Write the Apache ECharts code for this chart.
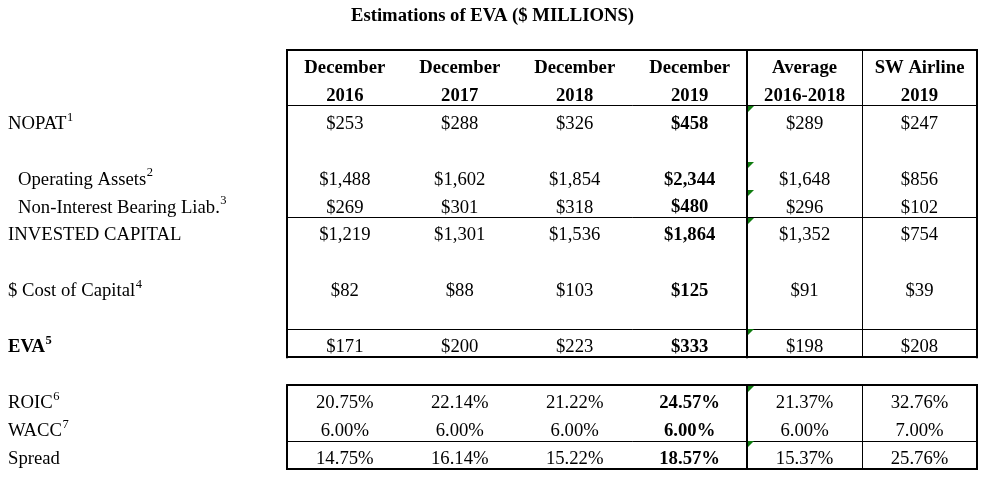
<!DOCTYPE html>
<html>
<head>
<meta charset="utf-8">
<script src="https://cdn.jsdelivr.net/npm/echarts@6/dist/echarts.min.js"></script>
<style>html,body{margin:0;padding:0;background:#fff}#c{width:985px;height:484px}</style>
</head>
<body>
<div id="c"></div>
<script>
// ---- data ----
const title = 'Estimations of EVA ($ MILLIONS)';
const headerLine1 = ['December', 'December', 'December', 'December', 'Average', 'SW Airline'];
const headerLine2 = ['2016', '2017', '2018', '2019', '2016-2018', '2019'];
const nopat = [253, 288, 326, 458, 289, 247];
const operatingAssets = [1488, 1602, 1854, 2344, 1648, 856];
const nonInterestLiab = [269, 301, 318, 480, 296, 102];
const investedCapital = [1219, 1301, 1536, 1864, 1352, 754];
const costOfCapital = [82, 88, 103, 125, 91, 39];
const eva = [171, 200, 223, 333, 198, 208];
const roic = [20.75, 22.14, 21.22, 24.57, 21.37, 32.76];
const wacc = [6.00, 6.00, 6.00, 6.00, 6.00, 7.00];
const spread = [14.75, 16.14, 15.22, 18.57, 15.37, 25.76];
const boldColumn = 3;

// ---- layout of the table (rows in table-row units) ----
const rowsSpec = [
  { row: 2, label: 'NOPAT', sup: '1', values: nopat, kind: 'usd' },
  { row: 4, label: 'Operating Assets', sup: '2', values: operatingAssets, kind: 'usd', indent: true },
  { row: 5, label: 'Non-Interest Bearing Liab.', sup: '3', values: nonInterestLiab, kind: 'usd', indent: true },
  { row: 6, label: 'INVESTED CAPITAL', sup: '', values: investedCapital, kind: 'usd' },
  { row: 8, label: '$ Cost of Capital', sup: '4', values: costOfCapital, kind: 'usd' },
  { row: 10, label: 'EVA', sup: '5', values: eva, kind: 'usd', bold: true },
  { row: 12, label: 'ROIC', sup: '6', values: roic, kind: 'pct' },
  { row: 13, label: 'WACC', sup: '7', values: wacc, kind: 'pct' },
  { row: 14, label: 'Spread', sup: '', values: spread, kind: 'pct' }
];
const markerRows = [2, 4, 5, 6, 10, 12, 14];
const markerCol = 4;
// rules: [x1, y1, x2, y2, width]
const rules = [
  [0, 0, 6, 0, 2], [0, 2, 6, 2, 1], [0, 6, 6, 6, 1], [0, 10, 6, 10, 1], [0, 11, 6, 11, 2],
  [0, 0, 0, 11, 2], [4, 0, 4, 11, 2], [5, 0, 5, 11, 1], [6, 0, 6, 11, 2],
  [0, 12, 6, 12, 2], [0, 14, 6, 14, 1], [0, 15, 6, 15, 2],
  [0, 12, 0, 15, 2], [4, 12, 4, 15, 2], [5, 12, 5, 15, 1], [6, 12, 6, 15, 2]
];

const FONT = "'Liberation Serif', 'Times New Roman', serif";
const FS = 18.7;
const SUP_FS = 12.5;

function fmt(v, kind) {
  if (kind === 'pct') return v.toFixed(2) + '%';
  return '$' + v.toLocaleString('en-US');
}

const measureCtx = document.createElement('canvas').getContext('2d');
function textWidth(t, fw) {
  measureCtx.font = fw + ' ' + FS + 'px ' + FONT;
  return measureCtx.measureText(t).width;
}

// build cells
const cells = [];
headerLine1.forEach((t, i) => cells.push({ x: i + 0.5, y: 0.5, text: t, bold: true, align: 'center' }));
headerLine2.forEach((t, i) => cells.push({ x: i + 0.5, y: 1.5, text: t, bold: true, align: 'center' }));
rowsSpec.forEach(r => {
  cells.push({ x: -2.5, y: r.row + 0.5, text: r.label, sup: r.sup, bold: !!r.bold, align: 'left', pad: r.indent ? 18 : 8 });
  r.values.forEach((v, i) => cells.push({ x: i + 0.5, y: r.row + 0.5, text: fmt(v, r.kind), bold: i === boldColumn, align: 'center' }));
});

const chart = echarts.init(document.getElementById('c'), null, { renderer: 'canvas' });

function crisp(v, w) { return w % 2 === 1 ? Math.round(v - 0.5) + 0.5 : Math.round(v); }

chart.setOption({
  animation: false,
  backgroundColor: '#ffffff',
  title: {
    text: title, left: 'center', top: 2,
    textStyle: { fontFamily: FONT, fontWeight: 'bold', fontSize: FS, color: '#000' }
  },
  grid: { left: 0, right: 8, top: 50, height: 419 },
  xAxis: { type: 'value', min: -2.5, max: 6, show: false },
  yAxis: { type: 'value', min: 0, max: 15, inverse: true, show: false },
  series: [
    {
      type: 'custom', coordinateSystem: 'cartesian2d', silent: true,
      data: rules.map(r => [r[0], r[1], r[2], r[3], r[4]]),
      renderItem: function (params, api) {
        const r = rules[params.dataIndex];
        const a = api.coord([r[0], r[1]]);
        const b = api.coord([r[2], r[3]]);
        const w = r[4];
        let x1 = a[0], y1 = a[1], x2 = b[0], y2 = b[1];
        if (x1 === x2) { x1 = x2 = crisp(x1, w); y1 -= w / 2; y2 += w / 2; }
        else { y1 = y2 = crisp(y1, w); x1 -= w / 2; x2 += w / 2; }
        return { type: 'line', shape: { x1, y1, x2, y2 }, style: { stroke: '#000', lineWidth: w } };
      }
    },
    {
      type: 'custom', coordinateSystem: 'cartesian2d', silent: true,
      data: markerRows.map(r => [markerCol, r]),
      renderItem: function (params, api) {
        const p = api.coord([api.value(0), api.value(1)]);
        const x = Math.round(p[0]) + 1, y = Math.round(p[1]) + (markerRows[params.dataIndex] === 12 ? 1 : 0);
        return { type: 'polygon', shape: { points: [[x, y], [x + 6, y], [x, y + 6]] }, style: { fill: '#107c10' } };
      }
    },
    {
      type: 'custom', coordinateSystem: 'cartesian2d', silent: true,
      data: cells.map(c => [c.x, c.y]),
      renderItem: function (params, api) {
        const c = cells[params.dataIndex];
        const p = api.coord([c.x, c.y]);
        const fw = c.bold ? 'bold' : 'normal';
        const x = c.align === 'left' ? p[0] + c.pad : p[0];
        const y = p[1] + 4;
        const children = [{
          type: 'text', x: x, y: y,
          style: { text: c.text, fontFamily: FONT, fontSize: FS, fontWeight: fw, fill: '#000', align: c.align, verticalAlign: 'middle' }
        }];
        if (c.sup) {
          children.push({
            type: 'text', x: x + textWidth(c.text, fw) + 0.5, y: y - 6.5,
            style: { text: c.sup, fontFamily: FONT, fontSize: SUP_FS, fontWeight: fw, fill: '#000', align: 'left', verticalAlign: 'middle' }
          });
        }
        return { type: 'group', children: children };
      }
    }
  ]
});
</script>
</body>
</html>
